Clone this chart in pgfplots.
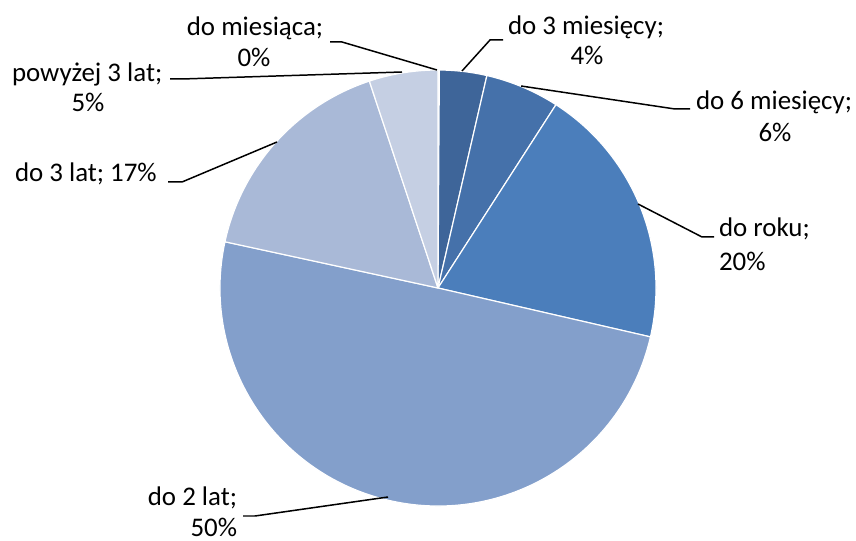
\documentclass[border=0pt]{standalone}
\usepackage{pgfplots}
\pgfplotsset{compat=1.18}
\usepackage{pgfplotstable}
\usepackage{fontspec}
\setmainfont{Carlito}

% share of each category in percent, clockwise from 12 o'clock
\pgfplotstableread{
value
0.1
3.5
5.5
19.5
49.8
16.5
5.1
}\piedata

\definecolor{s0}{HTML}{3A5D8F}
\definecolor{s1}{HTML}{3E6599}
\definecolor{s2}{HTML}{4571AA}
\definecolor{s3}{HTML}{4B7EBB}
\definecolor{s4}{HTML}{839FCB}
\definecolor{s5}{HTML}{A9B9D7}
\definecolor{s6}{HTML}{C5CFE3}

\newcommand{\lblfont}{\fontsize{27}{31}\selectfont}
\tikzset{lbl/.style={inner sep=0pt, outer sep=0pt, font=\lblfont}}

\begin{document}
\begin{tikzpicture}
\begin{axis}[
  scale only axis, width=856bp, height=541bp,
  xmin=0, xmax=856, ymin=0, ymax=541,
  hide axis, clip=false,
]
\path (rel axis cs:0,0) rectangle (rel axis cs:1,1);
\pgfplotstablegetrowsof{\piedata}
\pgfmathtruncatemacro\lastrow{\pgfplotsretval-1}
\gdef\cum{0}
\foreach \i in {0,...,\lastrow}{
  \pgfplotstablegetelem{\i}{value}\of\piedata
  \let\v\pgfplotsretval
  \pgfmathsetmacro\sa{90-3.6*\cum}
  \pgfmathsetmacro\ea{90-3.6*(\cum+\v)}
  \pgfmathsetmacro\newcum{\cum+\v}
  \xdef\cum{\newcum}
  \edef\temp{\noexpand\fill[s\i, draw=white, line width=1.2pt, line join=round]
    (axis cs:438,253) -- ++(\sa:218bp) arc[start angle=\sa, end angle=\ea, radius=218bp] -- cycle;}
  \temp
}
% leader lines
\addplot[black, line width=1.5pt, forget plot] coordinates {(330,499) (342,499) (437,471)};
\addplot[black, line width=1.5pt, forget plot] coordinates {(503,501) (490,501) (462,470)};
\addplot[black, line width=1.5pt, forget plot] coordinates {(690,432) (675,432) (521,455)};
\addplot[black, line width=1.5pt, forget plot] coordinates {(714,304) (702,304) (638,337)};
\addplot[black, line width=1.5pt, forget plot] coordinates {(243,25) (255,25) (388,44)};
\addplot[black, line width=1.5pt, forget plot] coordinates {(168,359) (182,359) (277,399)};
\addplot[black, line width=1.5pt, forget plot] coordinates {(170,462) (182,462) (402,469)};
% labels
\node[lbl, anchor=base] at (axis cs:255,505) {do miesiąca;};
\node[lbl, anchor=base] at (axis cs:254,474) {0\%};
\node[lbl, anchor=base] at (axis cs:586,506) {do 3 miesięcy;};
\node[lbl, anchor=base] at (axis cs:587,476) {4\%};
\node[lbl, anchor=base] at (axis cs:774,431) {do 6 miesięcy;};
\node[lbl, anchor=base] at (axis cs:775,399) {6\%};
\node[lbl, anchor=base west] at (axis cs:719,304) {do roku;};
\node[lbl, anchor=base west] at (axis cs:719,270) {20\%};
\node[lbl, anchor=base east] at (axis cs:237,35) {do 2 lat;};
\node[lbl, anchor=base east] at (axis cs:237,5) {50\%};
\node[lbl, anchor=base west] at (axis cs:15,359) {do 3 lat; 17\%};
\node[lbl, anchor=base west] at (axis cs:12,459) {powyżej 3 lat;};
\node[lbl, anchor=base] at (axis cs:88,429) {5\%};
\end{axis}
\end{tikzpicture}
\end{document}
